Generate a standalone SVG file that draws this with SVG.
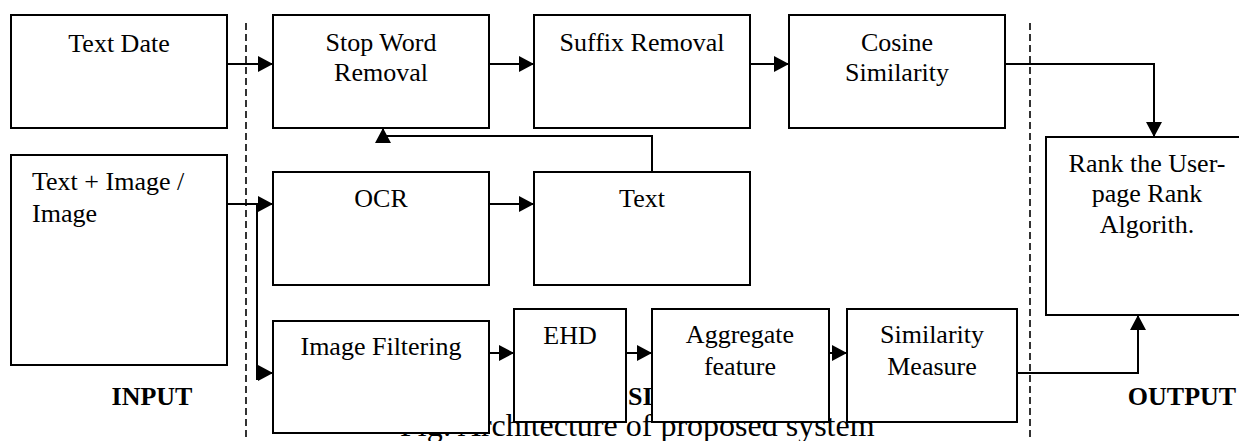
<svg xmlns="http://www.w3.org/2000/svg" width="1239" height="441" viewBox="0 0 1239 441">
  <style>
    .box { fill: #ffffff; stroke: #000000; stroke-width: 2; }
    .lbl { font-family: "Liberation Serif", "Times New Roman", serif; font-size: 26px; fill: #000000; text-anchor: middle; }
    .left { text-anchor: start; }
    .zone { font-family: "Liberation Serif", "Times New Roman", serif; font-size: 26px; font-weight: bold; fill: #000000; text-anchor: middle; }
    .cap { font-family: "Liberation Serif", "Times New Roman", serif; font-size: 32px; fill: #000000; }
    .divider { stroke: #000000; stroke-width: 1.6; stroke-dasharray: 7 4; fill: none; }
    .wire { stroke: #000000; stroke-width: 2; fill: none; }
  </style>
  <defs>
    <marker id="arrow" markerUnits="userSpaceOnUse" markerWidth="16" markerHeight="16" refX="15" refY="8" orient="auto">
      <path d="M0,0 L15,8 L0,16 Z" fill="#000000"/>
    </marker>
  </defs>

  <rect width="1239" height="441" fill="#ffffff"/>

  <!-- caption and section labels (boxes drawn later sit on top) -->
  <text class="cap" x="400" y="436">Fig: Architecture of proposed system</text>
  <text class="zone" x="152" y="405">INPUT</text>
  <text class="zone" x="628" y="405" style="text-anchor:start">SI</text>
  <text class="zone" x="1182" y="405">OUTPUT</text>

  <!-- zone dividers -->
  <line class="divider" x1="246" y1="23" x2="246" y2="441"/>
  <line class="divider" x1="1030" y1="23" x2="1030" y2="441"/>

  <!-- connectors -->
  <g id="connectors">
    <line class="wire" x1="227" y1="64" x2="273" y2="64" marker-end="url(#arrow)"/>
    <line class="wire" x1="489" y1="64" x2="534" y2="64" marker-end="url(#arrow)"/>
    <line class="wire" x1="750" y1="64" x2="789" y2="64" marker-end="url(#arrow)"/>
    <path class="wire" d="M1005,64 H1154 V137" marker-end="url(#arrow)"/>
    <path class="wire" d="M652,171 V136 H383 V128" marker-end="url(#arrow)"/>
    <line class="wire" x1="227" y1="204" x2="273" y2="204" marker-end="url(#arrow)"/>
    <line class="wire" x1="257" y1="204" x2="257" y2="380"/>
    <line class="wire" x1="257" y1="373" x2="273" y2="373" marker-end="url(#arrow)"/>
    <line class="wire" x1="489" y1="204" x2="534" y2="204" marker-end="url(#arrow)"/>
    <line class="wire" x1="489" y1="353" x2="514" y2="353" marker-end="url(#arrow)"/>
    <line class="wire" x1="626" y1="353" x2="652" y2="353" marker-end="url(#arrow)"/>
    <line class="wire" x1="829" y1="353" x2="847" y2="353" marker-end="url(#arrow)"/>
    <path class="wire" d="M1017,373 H1138 V315" marker-end="url(#arrow)"/>
  </g>

  <!-- nodes -->
  <g id="text-date">
    <rect class="box" x="11" y="15" width="216" height="113"/>
    <text class="lbl" x="119" y="52">Text Date</text>
  </g>
  <g id="stop-word">
    <rect class="box" x="273" y="15" width="216" height="113"/>
    <text class="lbl" x="381" y="51">Stop Word</text>
    <text class="lbl" x="381" y="81">Removal</text>
  </g>
  <g id="suffix">
    <rect class="box" x="534" y="15" width="216" height="113"/>
    <text class="lbl" x="642" y="51">Suffix Removal</text>
  </g>
  <g id="cosine">
    <rect class="box" x="789" y="15" width="216" height="113"/>
    <text class="lbl" x="897" y="51">Cosine</text>
    <text class="lbl" x="897" y="81">Similarity</text>
  </g>
  <g id="text-image">
    <rect class="box" x="11" y="155" width="216" height="210"/>
    <text class="lbl left" x="32" y="190">Text + Image /</text>
    <text class="lbl left" x="32" y="222">Image</text>
  </g>
  <g id="ocr">
    <rect class="box" x="273" y="172" width="216" height="113"/>
    <text class="lbl" x="381" y="207">OCR</text>
  </g>
  <g id="text">
    <rect class="box" x="534" y="172" width="216" height="113"/>
    <text class="lbl" x="642" y="207">Text</text>
  </g>
  <g id="image-filtering">
    <rect class="box" x="273" y="321" width="216" height="112"/>
    <text class="lbl" x="381" y="355">Image Filtering</text>
  </g>
  <g id="ehd">
    <rect class="box" x="514" y="309" width="112" height="113"/>
    <text class="lbl" x="570" y="344">EHD</text>
  </g>
  <g id="aggregate">
    <rect class="box" x="652" y="309" width="177" height="113"/>
    <text class="lbl" x="740" y="343">Aggregate</text>
    <text class="lbl" x="740" y="375">feature</text>
  </g>
  <g id="similarity">
    <rect class="box" x="847" y="309" width="170" height="113"/>
    <text class="lbl" x="932" y="343">Similarity</text>
    <text class="lbl" x="932" y="375">Measure</text>
  </g>
  <g id="rank">
    <rect class="box" x="1046" y="137" width="210" height="178"/>
    <text class="lbl" x="1147" y="172">Rank the User-</text>
    <text class="lbl" x="1147" y="202">page Rank</text>
    <text class="lbl" x="1147" y="233">Algorith.</text>
  </g>
</svg>
